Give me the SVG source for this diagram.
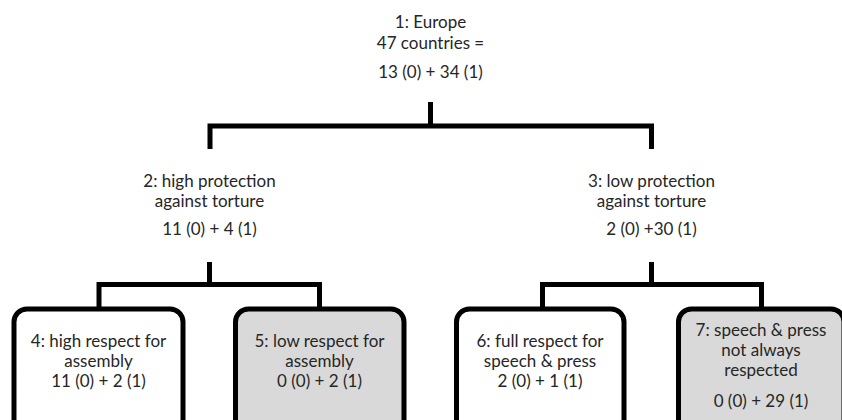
<svg xmlns="http://www.w3.org/2000/svg" width="842" height="420" viewBox="0 0 842 420">
<style>
  .t { font-family: Lato, "Open Sans", "Liberation Sans", sans-serif; font-size: 17px; fill: #262626; text-anchor: middle; }
  .box { stroke: #000; stroke-width: 5; }
  .white { fill: #ffffff; }
  .gray { fill: #d9d9d9; }
  .conn { fill: none; stroke: #000; stroke-width: 5; stroke-linejoin: miter; stroke-linecap: butt; }
</style>
<rect x="0" y="0" width="842" height="420" fill="#ffffff"/>
<g id="connectors">
  <path class="conn" d="M210,149 V126 H651.5 V149 M430.5,102 V126"/>
  <path class="conn" d="M99,309 V284.5 H319.5 V309 M209.5,262 V284.5"/>
  <path class="conn" d="M542.5,309 V284.5 H761.5 V309 M651.5,262 V284.5"/>
</g>
<g id="node1">
  <text class="t" x="430.5" y="28">1: Europe</text>
  <text class="t" x="430.5" y="49">47 countries =</text>
  <text class="t" x="430.5" y="78">13 (0) + 34 (1)</text>
</g>
<g id="node2">
  <text class="t" x="209.5" y="187">2: high protection</text>
  <text class="t" x="209.5" y="207">against torture</text>
  <text class="t" x="209.5" y="235">11 (0) + 4 (1)</text>
</g>
<g id="node3">
  <text class="t" x="651.5" y="187">3: low protection</text>
  <text class="t" x="651.5" y="207">against torture</text>
  <text class="t" x="651.5" y="235">2 (0) +30 (1)</text>
</g>
<g id="node4">
  <rect class="box white" x="14" y="309" width="169" height="130" rx="13"/>
  <text class="t" x="98.5" y="346.5">4: high respect for</text>
  <text class="t" x="98.5" y="366.5">assembly</text>
  <text class="t" x="98.5" y="387">11 (0) + 2 (1)</text>
</g>
<g id="node5">
  <rect class="box gray" x="235.5" y="309" width="168.5" height="130" rx="13"/>
  <text class="t" x="319.5" y="346.5">5: low respect for</text>
  <text class="t" x="319.5" y="366.5">assembly</text>
  <text class="t" x="319.5" y="387">0 (0) + 2 (1)</text>
</g>
<g id="node6">
  <rect class="box white" x="456.5" y="309" width="167.5" height="130" rx="13"/>
  <text class="t" x="540" y="346.5">6: full respect for</text>
  <text class="t" x="540" y="366.5">speech &amp; press</text>
  <text class="t" x="540" y="387">2 (0) + 1 (1)</text>
</g>
<g id="node7">
  <rect class="box gray" x="678.5" y="309" width="165.5" height="130" rx="13"/>
  <text class="t" x="761" y="336">7: speech &amp; press</text>
  <text class="t" x="761" y="356">not always</text>
  <text class="t" x="761" y="375.5">respected</text>
  <text class="t" x="761" y="406.5">0 (0) + 29 (1)</text>
</g>
</svg>
